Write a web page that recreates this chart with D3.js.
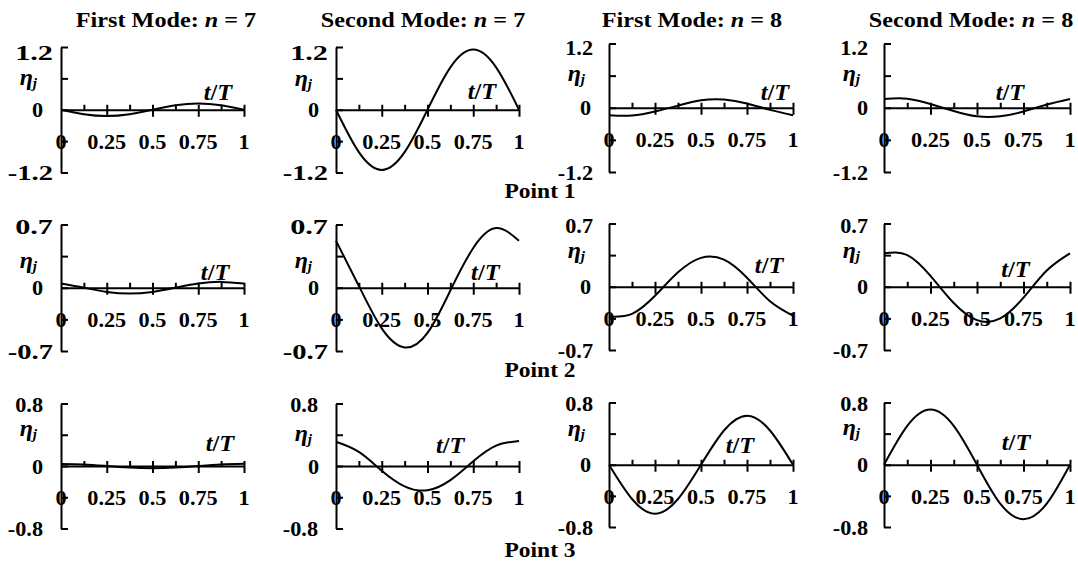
<!DOCTYPE html>
<html>
<head>
<meta charset="utf-8">
<script src="https://cdn.jsdelivr.net/npm/d3@7"></script>
<style>
  body { margin: 0; background: #fff; }
  svg text { font-family: 'Liberation Serif', 'Times New Roman', serif; font-weight: bold; fill: #000; }
</style>
</head>
<body>
<svg id="chart" width="1078" height="562"></svg>
<script>
// ---- data -------------------------------------------------------------
const tValues = [0, 0.125, 0.25, 0.375, 0.5, 0.625, 0.75, 0.875, 1];

const modeNames = ["First Mode", "Second Mode", "First Mode", "Second Mode"];
const modeN = [7, 7, 8, 8];
const pointLabels = ["Point 1", "Point 2", "Point 3"];

const yLimits = [1.2, 0.7, 0.8];
const yTickLabels = [["1.2", "0", "-1.2"], ["0.7", "0", "-0.7"], ["0.8", "0", "-0.8"]];
const xTickValues = [0, 0.25, 0.5, 0.75, 1];
const xTickLabels = ["0", "0.25", "0.5", "0.75", "1"];

// eta_j(t/T) at Point 1
const firstN7P1  = [0, -0.085, -0.12, -0.085, 0, 0.085, 0.12, 0.085, 0];
const secondN7P1 = [0, -0.81, -1.15, -0.81, 0, 0.81, 1.15, 0.81, 0];
const firstN8P1  = [-0.14, -0.145, -0.07, 0.04, 0.14, 0.155, 0.08, -0.04, -0.14];
const secondN8P1 = [0.165, 0.17, 0.07, -0.06, -0.16, -0.16, -0.07, 0.06, 0.165];
// Point 2
const firstN7P2  = [0.046, 0.0, -0.046, -0.065, -0.046, 0.0, 0.046, 0.065, 0.046];
const secondN7P2 = [0.52, 0.02, -0.45, -0.66, -0.50, -0.03, 0.44, 0.66, 0.52];
const firstN8P2  = [-0.33, -0.30, -0.10, 0.16, 0.32, 0.30, 0.10, -0.16, -0.32];
const secondN8P2 = [0.37, 0.35, 0.12, -0.18, -0.37, -0.35, -0.12, 0.18, 0.37];
// Point 3
const firstN7P3  = [0.025, 0.02, 0.0, -0.02, -0.028, -0.02, 0.0, 0.02, 0.028];
const secondN7P3 = [0.31, 0.18, -0.06, -0.26, -0.31, -0.18, 0.06, 0.26, 0.32];
const firstN8P3  = [0, -0.44, -0.63, -0.44, 0, 0.44, 0.63, 0.44, 0];
const secondN8P3 = [0, 0.5, 0.71, 0.5, 0, -0.5, -0.70, -0.5, 0];

const seriesGrid = [
  [firstN7P1, secondN7P1, firstN8P1, secondN8P1],
  [firstN7P2, secondN7P2, firstN8P2, secondN8P2],
  [firstN7P3, secondN7P3, firstN8P3, secondN8P3]
];

// ---- layout -----------------------------------------------------------
const colAxisX = [61, 336, 609, 884];
const colEndX  = [244, 519, 793, 1070];
const panelTop = [[47, 47, 43.5, 43.5], [224.5, 224.5, 223.5, 223.5], [403.5, 403.5, 402.5, 402.5]];
const panelBottom = [[172.5, 172.5, 172, 172], [351, 351, 350, 350], [528.5, 528.5, 527, 527]];
const titleX = [166, 423, 692, 971];
const titleY = 27;
const pointLabelX = 540;
const pointLabelY = [198, 377, 557];
const topLabelDy = [[13, 13, 11.5, 11.5], [9, 9, 9, 9], [8.5, 8.5, 8.5, 8.5]];
// y label right-edge gap from the axis, per column
const zeroLabelGap = [18, 17, 18, 16];
const valueLabelGap = [18, 18, 16, 16];
// t/T label: [position along t, rise above zero line]
const tLabelPos = [
  [[0.858, 10], [0.797, 11], [0.902, 8], [0.677, 8]],
  [[0.842, 8], [0.816, 8], [0.870, 14], [0.707, 10]],
  [[0.869, 15], [0.624, 13], [0.712, 12], [0.710, 15]]
];
// eta_j label rise above zero line
const etaRise = [[25, 24, 27, 27], [20, 20, 29, 29], [30, 25, 29, 30]];

const SX = 1.06; // horizontal text stretch
const svg = d3.select("#chart");

function addText(parent, x, y, anchor, size, sx) {
  return parent.append("text")
    .attr("transform", `translate(${x},${y}) scale(${sx},1)`)
    .attr("text-anchor", anchor)
    .attr("font-size", size);
}

// column titles
modeNames.forEach((name, c) => {
  const t = addText(svg, titleX[c], titleY, "middle", 22, 1.1);
  t.append("tspan").text(name + ": ");
  t.append("tspan").attr("font-style", "italic").text("n");
  t.append("tspan").text(" = " + modeN[c]);
});

// row labels
pointLabels.forEach((lab, r) => {
  addText(svg, pointLabelX, pointLabelY[r], "middle", 21, 1.12).text(lab);
});

function styleAxis(g) {
  g.selectAll("path, line").attr("stroke", "#000").attr("stroke-width", 2);
  g.selectAll("text").remove();
}

seriesGrid.forEach((row, r) => {
  row.forEach((values, c) => {
    const L = yLimits[r];
    const x = d3.scaleLinear().domain([0, 1]).range([colAxisX[c], colEndX[c]]);
    const y = d3.scaleLinear().domain([-L, L]).range([panelBottom[r][c], panelTop[r][c]]);
    const g = svg.append("g");
    const y0 = y(0), x0 = x(0);

    // vertical axis with inward ticks
    g.append("g").attr("transform", `translate(${x0},0)`)
      .call(d3.axisRight(y).tickValues([-L, -L / 2, 0, L / 2, L]).tickSize(7).tickSizeOuter(0).tickFormat(""))
      .call(styleAxis);

    // horizontal axis: minor ticks above, major ticks crossing below
    g.append("g").attr("transform", `translate(0,${y0})`)
      .call(d3.axisTop(x).tickValues(d3.range(1, 9).map(i => i / 8)).tickSize(5).tickSizeOuter(0).tickFormat(""))
      .call(styleAxis);
    g.append("g").attr("transform", `translate(0,${y0})`)
      .call(d3.axisBottom(x).tickValues([0.25, 0.5, 0.75, 1]).tickSize(7).tickSizeOuter(0).tickFormat(""))
      .call(g2 => g2.select(".domain").remove())
      .call(styleAxis);

    // x tick labels
    xTickValues.forEach((v, i) => {
      addText(g, x(v), y0 + 39, "middle", 21, SX).text(xTickLabels[i]);
    });

    // y tick labels
    const yVals = [L, 0, -L];
    yVals.forEach((v, i) => {
      const lab = yTickLabels[r][i];
      const dy = i === 0 ? topLabelDy[r][c] : 7.5;
      if (v === 0) {
        addText(g, x0 - zeroLabelGap[c], y(v) + dy, "end", 21, SX).text(lab);
      } else if (r === 2 || c >= 2) {
        addText(g, x0 - valueLabelGap[c], y(v) + dy, "end", 21, SX).text(lab);
      } else {
        // wider-set labels on the upper-left panels
        const t = addText(g, x0 - 8, y(v) + dy, "end", 21, SX).text(lab);
        const w = t.node().getComputedTextLength();
        t.attr("transform", `translate(${x0 - 8},${y(v) + dy}) scale(${(w * SX + 10) / w},1)`);
      }
    });

    // axis titles
    const eta = addText(g, x0 - 24, y0 - etaRise[r][c], "end", 24, 1);
    eta.append("tspan").attr("font-style", "italic").text("η");
    eta.append("tspan").attr("font-style", "italic").attr("font-size", 15).attr("dy", 3).text("j");

    const tp = tLabelPos[r][c];
    const tt = addText(g, x(tp[0]), y0 - tp[1], "middle", 23, SX);
    tt.append("tspan").attr("font-style", "italic").text("t");
    tt.append("tspan").text("/");
    tt.append("tspan").attr("font-style", "italic").text("T");

    // response curve
    const line = d3.line()
      .x((d, i) => x(tValues[i]))
      .y(d => y(d))
      .curve(d3.curveNatural);
    g.append("path")
      .datum(values)
      .attr("d", line)
      .attr("fill", "none")
      .attr("stroke", "#000")
      .attr("stroke-width", 2);
  });
});
</script>
</body>
</html>
